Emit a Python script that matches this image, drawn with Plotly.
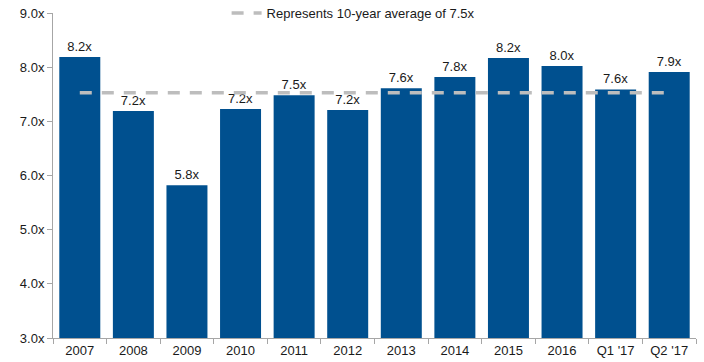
import plotly.graph_objects as go

categories = ["2007", "2008", "2009", "2010", "2011", "2012", "2013", "2014", "2015", "2016", "Q1 '17", "Q2 '17"]
multiples = [8.19, 7.19, 5.82, 7.23, 7.48, 7.21, 7.61, 7.82, 8.17, 8.02, 7.59, 7.91]
average_value = 7.53
average_label = "Represents 10-year average of 7.5x"
y_ticks = [3.0, 4.0, 5.0, 6.0, 7.0, 8.0, 9.0]
y_tick_labels = [f"{v:.1f}x" for v in y_ticks]

FONT = "Liberation Sans"

fig = go.Figure()
fig.add_trace(go.Bar(
    x=categories, y=multiples,
    marker=dict(color="#00508F", line=dict(width=0)),
    texttemplate="%{y:.1f}x", textposition="outside",
    textfont=dict(size=13, color="#1a1a1a", family=FONT),
    cliponaxis=False, showlegend=False, width=0.765,
))
fig.add_trace(go.Scatter(
    x=categories, y=[average_value] * len(categories),
    mode="lines", name=average_label,
    line=dict(color="#BDBDBD", width=3.5, dash="12px,10px"),
))

fig.update_layout(
    width=704, height=362,
    margin=dict(l=53, r=8, t=13, b=24, autoexpand=False),
    paper_bgcolor="white", plot_bgcolor="white",
    font=dict(family=FONT, size=13, color="#1a1a1a"),
    legend=dict(orientation="h", x=0.27, xanchor="left", y=1.0, yanchor="middle",
                bgcolor="rgba(0,0,0,0)", font=dict(size=13, family=FONT), itemwidth=30),
    xaxis=dict(showline=True, linecolor="#A6A6A6", linewidth=1,
               ticks="outside", tickson="boundaries", ticklen=5, tickcolor="#A6A6A6",
               showgrid=False, tickfont=dict(size=13, family=FONT), automargin=False),
    yaxis=dict(range=[3, 9], tickmode="array", tickvals=y_ticks, ticktext=y_tick_labels,
               showline=True, linecolor="#A6A6A6", linewidth=1,
               ticks="outside", ticklen=5, tickcolor="#A6A6A6",
               showgrid=False, zeroline=False, tickfont=dict(size=13, family=FONT),
               automargin=False),
)

fig.write_html("out.html", config={"displayModeBar": False},
               post_script="document.body.style.margin='0';document.body.style.overflow='hidden';")
